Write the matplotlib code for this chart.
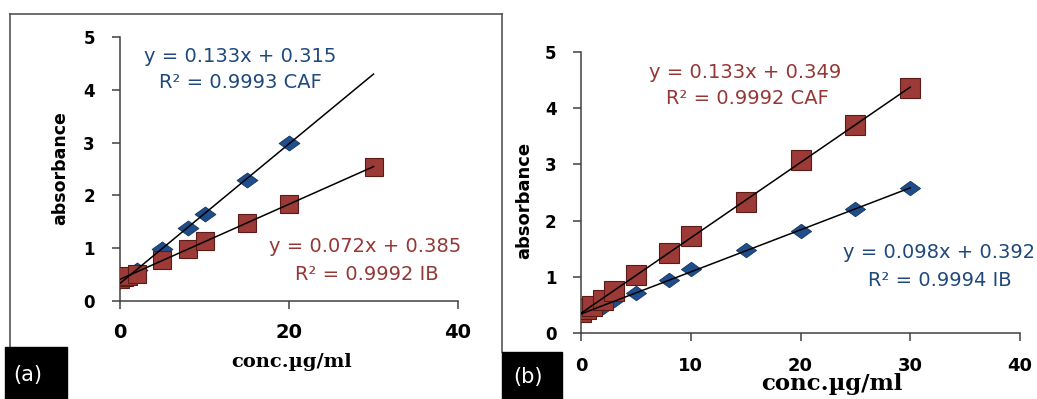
import numpy as np
import matplotlib
matplotlib.use('Agg')
import matplotlib.pyplot as plt
from matplotlib.path import Path
from matplotlib.lines import Line2D
from matplotlib.patches import Rectangle

################# andmed (loetud pildilt)

# paneel (a)
a_caf_x = [0, 0.5, 1, 2, 5, 8, 10, 15, 20]
a_caf_y = [0.38, 0.40, 0.45, 0.58, 0.99, 1.39, 1.64, 2.30, 3.00]
a_ib_x = [0, 0.5, 1, 2, 5, 8, 10, 15, 20, 30]
a_ib_y = [0.42, 0.45, 0.47, 0.52, 0.78, 0.98, 1.14, 1.48, 1.83, 2.54]
a_caf_eq = ['y = 0.133x + 0.315', 'R² = 0.9993 CAF']
a_ib_eq = ['y = 0.072x + 0.385', 'R² = 0.9992 IB']
a_xticks = [0, 20, 40]

# paneel (b)
b_caf_x = [0, 0.5, 1, 2, 3, 5, 8, 10, 15, 20, 25, 30]
b_caf_y = [0.38, 0.42, 0.48, 0.58, 0.75, 1.03, 1.42, 1.72, 2.33, 3.08, 3.70, 4.36]
b_ib_x = [0, 1, 2, 3, 5, 8, 10, 15, 20, 25, 30]
b_ib_y = [0.32, 0.40, 0.47, 0.58, 0.72, 0.94, 1.13, 1.47, 1.82, 2.20, 2.58]
b_caf_eq = ['y = 0.133x + 0.349', 'R² = 0.9992 CAF']
b_ib_eq = ['y = 0.098x + 0.392', 'R² = 0.9994 IB']
b_xticks = [0, 10, 20, 30, 40]

yticks = [0, 1, 2, 3, 4, 5]

################# stiilid

W, H = 1037, 399
BLUE = '#1F4E8C'
BLUE_EDGE = '#16365C'
BLUE_TXT = '#1F497D'
RED = '#9B3A36'
RED_EDGE = '#5C1A17'
RED_TXT = '#953735'
SPINE = '#404040'

wide_diamond = Path([(0, 0.72), (1, 0), (0, -0.72), (-1, 0), (0, 0.72)],
                    [Path.MOVETO, Path.LINETO, Path.LINETO, Path.LINETO, Path.CLOSEPOLY])


def px(x, y):  # piksel -> figuuri koordinaadid
    return x / W, 1 - y / H


def trend(ax, x, y):
    k, b = np.polyfit(x, y, 1)
    xx = np.array([0, 30])
    ax.plot(xx, k * xx + b, color='black', lw=1.1, zorder=4)


def seadista(ax, xticks, xfs, xpad, ypad):
    ax.set_xlim(0, 40)
    ax.set_ylim(0, 5)
    ax.set_xticks(xticks)
    ax.set_yticks(yticks)
    for s in ['top', 'right']:
        ax.spines[s].set_visible(False)
    for s in ['left', 'bottom']:
        ax.spines[s].set_color(SPINE)
        ax.spines[s].set_linewidth(1.1)
    ax.tick_params(axis='both', direction='out', length=6, width=1.1, color=SPINE)
    ax.tick_params(axis='y', labelsize=12, pad=ypad)
    ax.tick_params(axis='x', labelsize=xfs, pad=xpad)
    for t in ax.get_xticklabels() + ax.get_yticklabels():
        t.set_fontweight('bold')
    ax.patch.set_alpha(0)


fig = plt.figure(figsize=(W / 100, H / 100), dpi=100)

# raam ümber paneeli (a)
fig.add_artist(Line2D([10 / W, 10 / W], [1 - 347 / H, 1 - 14 / H], color='#555555', lw=1.2))
fig.add_artist(Line2D([10 / W, 502 / W], [1 - 14 / H, 1 - 14 / H], color='#555555', lw=1.2))
fig.add_artist(Line2D([502 / W, 502 / W], [1 - 352 / H, 1 - 14 / H], color='#555555', lw=1.2))

################# paneel (a)
ax1 = fig.add_axes([120 / W, 1 - 301 / H, 338 / W, 264 / H])
ax1.plot(a_caf_x, a_caf_y, ls='none', marker=wide_diamond, ms=15,
         mfc=BLUE, mec=BLUE_EDGE, mew=0.6, zorder=3)
ax1.plot(a_ib_x, a_ib_y, ls='none', marker='s', ms=13, mfc=RED, mec=RED_EDGE, mew=0.8, zorder=3)
trend(ax1, a_caf_x, a_caf_y)
trend(ax1, a_ib_x, a_ib_y)
seadista(ax1, a_xticks, 14, 10, 12)

fig.text(*px(240, 57), a_caf_eq[0], color=BLUE_TXT, fontsize=14, ha='center', va='center')
fig.text(*px(240, 83), a_caf_eq[1], color=BLUE_TXT, fontsize=14, ha='center', va='center')
fig.text(*px(365, 247), a_ib_eq[0], color=RED_TXT, fontsize=14, ha='center', va='center')
fig.text(*px(367, 274), a_ib_eq[1], color=RED_TXT, fontsize=14, ha='center', va='center')
fig.text(*px(60, 168), 'absorbance', fontsize=12.5, fontweight='bold', rotation=90,
         ha='center', va='center')
fig.text(*px(292, 362), 'conc.µg/ml', fontsize=14, fontweight='bold', family='DejaVu Serif',
         ha='center', va='center')

################# paneel (b)
ax2 = fig.add_axes([581 / W, 1 - 333 / H, 439 / W, 281 / H])
ax2.plot(b_ib_x, b_ib_y, ls='none', marker=wide_diamond, ms=14.5,
         mfc=BLUE, mec=BLUE_EDGE, mew=0.6, zorder=3)
ax2.plot(b_caf_x, b_caf_y, ls='none', marker='s', ms=15, mfc=RED, mec=RED_EDGE, mew=0.8, zorder=3)
trend(ax2, b_caf_x, b_caf_y)
trend(ax2, b_ib_x, b_ib_y)
seadista(ax2, b_xticks, 13, 11, 11.5)

fig.text(*px(745, 72), b_caf_eq[0], color=RED_TXT, fontsize=14, ha='center', va='center')
fig.text(*px(747, 98), b_caf_eq[1], color=RED_TXT, fontsize=14, ha='center', va='center')
fig.text(*px(939, 253), b_ib_eq[0], color=BLUE_TXT, fontsize=14, ha='center', va='center')
fig.text(*px(940, 280), b_ib_eq[1], color=BLUE_TXT, fontsize=14, ha='center', va='center')
fig.text(*px(524, 200), 'absorbance', fontsize=13, fontweight='bold', rotation=90,
         ha='center', va='center')
fig.text(*px(832, 384), 'conc.µg/ml', fontsize=16.5, fontweight='bold', family='DejaVu Serif',
         ha='center', va='center')

################# mustad sildikastid
fig.add_artist(Rectangle(px(5, 399), 62 / W, 52 / H, color='black', zorder=5))
fig.add_artist(Rectangle(px(502, 399), 60 / W, 47 / H, color='black', zorder=5))
fig.text(*px(28, 375), '(a)', color='white', fontsize=15, ha='center', va='center', zorder=6)
fig.text(*px(528, 377), '(b)', color='white', fontsize=15, ha='center', va='center', zorder=6)

fig.savefig('out.png', dpi=100)
